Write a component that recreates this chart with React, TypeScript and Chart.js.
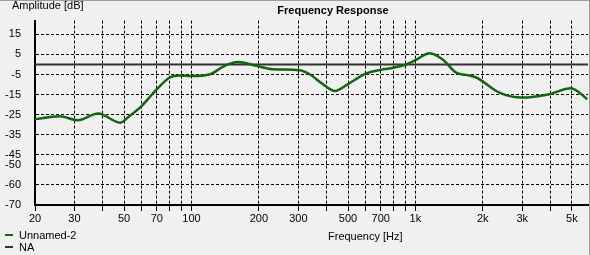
import React, { useEffect, useRef } from 'react';
import { Chart, registerables } from 'chart.js';

Chart.register(...registerables);

// Frequency response data (Hz, dB)
const freqs = [20, 25.8, 31, 38.3, 48, 53, 60, 70, 80, 88, 100, 121, 140, 161, 195, 232, 304, 337, 386, 436, 500, 600, 700, 800, 900, 1000, 1156, 1320, 1520, 1684, 1870, 2370, 3000, 3960, 4950, 5860];
const amplitudes = [-27.2, -25.8, -27.8, -24.4, -29.0, -25.6, -20.6, -12.3, -6.5, -5.5, -5.8, -4.9, -0.8, 1.2, -0.7, -2.4, -2.9, -4.9, -9.8, -13.2, -9.8, -4.6, -2.7, -1.6, -0.2, 2.1, 5.6, 2.6, -4.1, -5.2, -6.5, -14.0, -16.5, -14.8, -11.8, -17.3];

// Reference ("NA") line
const naFreqs = [20, 5900];
const naLevels = [0, 0];

// Axis ticks
const yTicks = [15, 5, -5, -15, -25, -35, -45, -50, -60, -70];
const xGridValues = [20, 30, 40, 50, 60, 70, 80, 90, 100, 200, 300, 400, 500, 600, 700, 800, 900, 1000, 2000, 3000, 4000, 5000];
const xLabelValues = [20, 30, 50, 70, 100, 200, 300, 500, 700, 1000, 2000, 3000, 5000];
const xLabelTexts = ['20', '30', '50', '70', '100', '200', '300', '500', '700', '1k', '2k', '3k', '5k'];

const seriesName = 'Unnamed-2';
const refName = 'NA';
const titleText = 'Frequency Response';
const yTitle = 'Amplitude [dB]';
const xTitle = 'Frequency [Hz]';

const GREEN = '#126612';
const GRAY = '#333333';
const FONT = '"Liberation Sans", Arial, sans-serif';

export default function App() {
  const ref = useRef<HTMLCanvasElement | null>(null);

  useEffect(() => {
    document.body.style.margin = '0';
    const canvas = ref.current;
    if (!canvas) return;

    const decor = {
      id: 'decor',
      beforeDraw(chart: any) {
        const ctx = chart.ctx;
        ctx.save();
        ctx.fillStyle = '#f0f0f0';
        ctx.fillRect(0, 0, chart.width, chart.height);
        ctx.restore();
      },
      afterDraw(chart: any) {
        const ctx = chart.ctx;
        ctx.save();
        ctx.fillStyle = '#000';
        ctx.textBaseline = 'middle';
        ctx.font = `bold 11px ${FONT}`;
        ctx.textAlign = 'center';
        ctx.fillText(titleText, 333, 11);
        ctx.font = `11px ${FONT}`;
        ctx.textAlign = 'left';
        ctx.fillText(yTitle, 12, 6);
        ctx.fillText(xTitle, 328, 237);
        // legend
        ctx.lineWidth = 2;
        ctx.strokeStyle = GREEN;
        ctx.beginPath();
        ctx.moveTo(5, 235);
        ctx.lineTo(13, 235);
        ctx.stroke();
        ctx.strokeStyle = GRAY;
        ctx.beginPath();
        ctx.moveTo(5, 247);
        ctx.lineTo(13, 247);
        ctx.stroke();
        ctx.fillText(seriesName, 19, 236);
        ctx.fillText(refName, 19, 248);
        // window edges
        ctx.fillStyle = '#a09c9c';
        ctx.fillRect(0, 0, chart.width, 1);
        ctx.fillRect(chart.width - 1, 0, 1, chart.height);
        ctx.restore();
      },
    };

    const chart = new Chart(canvas, {
      type: 'line',
      data: {
        datasets: [
          {
            label: seriesName,
            data: freqs.map((f, i) => ({ x: f, y: amplitudes[i] })),
            borderColor: GREEN,
            borderWidth: 2.5,
            pointRadius: 0,
            tension: 0.4,
            cubicInterpolationMode: 'monotone',
            fill: false,
          },
          {
            label: refName,
            data: naFreqs.map((f, i) => ({ x: f, y: naLevels[i] })),
            borderColor: GRAY,
            borderWidth: 2,
            pointRadius: 0,
            fill: false,
          },
        ],
      },
      plugins: [decor],
      options: {
        responsive: false,
        animation: false,
        parsing: false,
        layout: { padding: { top: 20, right: 2, left: 0, bottom: 0 } },
        plugins: {
          legend: { display: false },
          title: { display: false },
          tooltip: { enabled: false },
        },
        scales: {
          x: {
            type: 'logarithmic',
            min: 20,
            max: 5900,
            afterBuildTicks: (scale: any) => {
              scale.ticks = xGridValues.map((v) => ({ value: v }));
            },
            afterFit: (scale: any) => {
              scale.height = 50;
            },
            ticks: {
              autoSkip: false,
              maxRotation: 0,
              minRotation: 0,
              padding: 1,
              color: '#000',
              font: { family: FONT, size: 11 },
              callback: (value: any) => {
                const idx = xLabelValues.indexOf(Number(value));
                return idx >= 0 ? xLabelTexts[idx] : '';
              },
            },
            grid: {
              color: '#000',
              lineWidth: 1,
              drawTicks: true,
              tickLength: 6,
              tickColor: '#000',
            },
            border: { display: true, color: '#000', width: 2, dash: [3, 2] },
          },
          y: {
            type: 'linear',
            min: -70,
            max: 21.84,
            afterBuildTicks: (scale: any) => {
              scale.ticks = yTicks.map((v) => ({ value: v }));
            },
            afterFit: (scale: any) => {
              scale.width = 35;
            },
            ticks: {
              autoSkip: false,
              padding: 14,
              color: '#000',
              font: { family: FONT, size: 11 },
              callback: (value: any) => String(value),
            },
            grid: {
              color: '#000',
              lineWidth: 1,
              drawTicks: false,
            },
            border: { display: true, color: '#000', width: 2, dash: [3, 2] },
          },
        },
      } as any,
    });

    return () => chart.destroy();
  }, []);

  return (
    <div style={{ width: 590, height: 255, background: '#f0f0f0' }}>
      <canvas ref={ref} width={590} height={255} style={{ display: 'block' }} />
    </div>
  );
}
